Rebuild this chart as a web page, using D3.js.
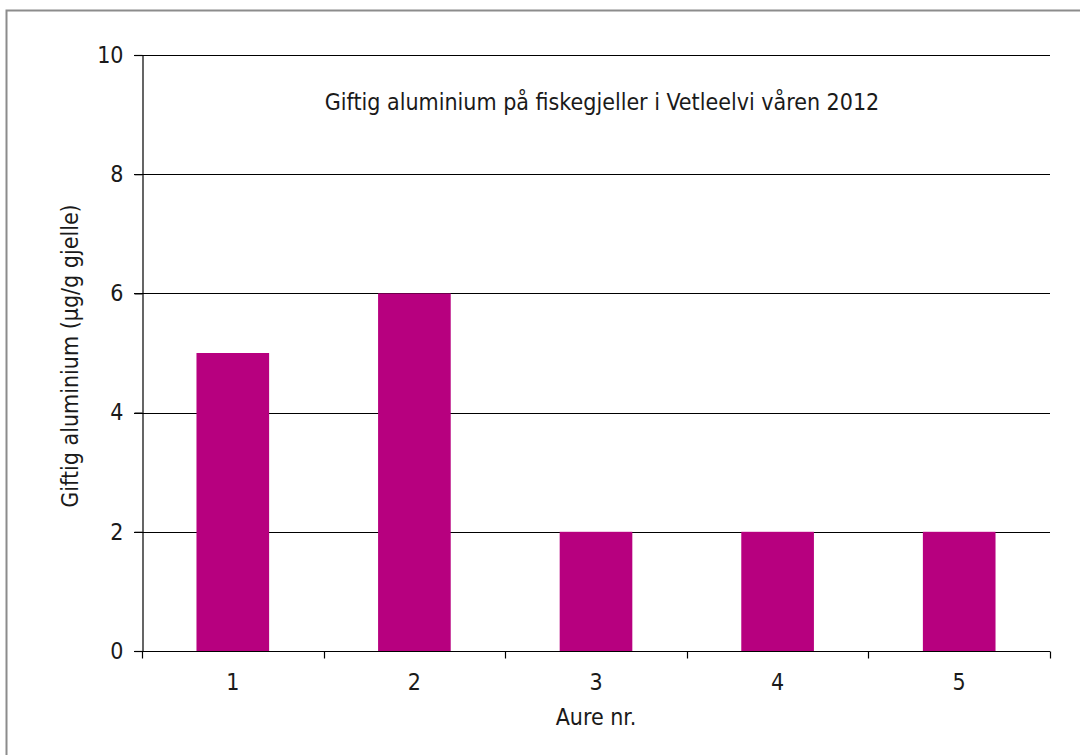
<!DOCTYPE html>
<html>
<head>
<meta charset="utf-8">
<script src="https://cdn.jsdelivr.net/npm/d3@7/dist/d3.min.js"></script>
<style>
  html, body { margin: 0; padding: 0; background: #fff; }
  svg { display: block; }
  text { font-family: "DejaVu Sans Condensed", "Liberation Sans Narrow", Roboto, sans-serif; fill: #1a1a1a; }
</style>
</head>
<body>
<svg id="chart" width="1080" height="755"></svg>
<script>
// Aure (trout) number and toxic aluminium on gills, µg per g gill
const categories = ["1", "2", "3", "4", "5"];
const values = [5, 6, 2, 2, 2];
const yTicks = [0, 2, 4, 6, 8, 10];

const title = "Giftig aluminium på fiskegjeller i Vetleelvi våren 2012";
const xTitle = "Aure nr.";
const yTitle = "Giftig aluminium (µg/g gjelle)";

const svg = d3.select("#chart");
const W = 1080, H = 755;
const m = { left: 142, right: 30, top: 55, bottom: 104 };
const fontStack = "\"DejaVu Sans Condensed\", \"Liberation Sans Narrow\", Roboto, sans-serif";

// outer frame
svg.append("rect")
  .attr("x", 6.5).attr("y", 10.5)
  .attr("width", W + 10).attr("height", H + 10)
  .attr("fill", "none").attr("stroke", "#8c8c8c").attr("stroke-width", 2);

const x = d3.scaleBand().domain(categories)
  .range([m.left, W - m.right]).paddingInner(0.6).paddingOuter(0.3);
const y = d3.scaleLinear().domain([0, 10]).range([H - m.bottom, m.top]);

// horizontal gridlines
svg.append("g").selectAll("line").data(yTicks.filter(d => d > 0)).join("line")
  .attr("x1", m.left - 8).attr("x2", W - m.right)
  .attr("y1", d => Math.round(y(d)) + 0.5).attr("y2", d => Math.round(y(d)) + 0.5)
  .attr("stroke", "#000").attr("stroke-width", 1.2);

// bars
svg.append("g").selectAll("rect").data(values).join("rect")
  .attr("x", (d, i) => x(categories[i]))
  .attr("width", x.bandwidth())
  .attr("y", d => y(d))
  .attr("height", d => y(0) - y(d))
  .attr("fill", "#b7007f");

// y axis
const yAxis = svg.append("g")
  .attr("transform", `translate(${m.left + 0.5},0)`)
  .call(d3.axisLeft(y).tickValues(yTicks).tickSize(8).tickPadding(11).tickFormat(d3.format("d")));
yAxis.select(".domain").attr("stroke", "#000").attr("stroke-width", 1.2);
yAxis.selectAll(".tick line").attr("stroke", "#000").attr("stroke-width", 1.2);
yAxis.selectAll("text").attr("font-size", 23).attr("fill", "#1a1a1a")
  .style("font-family", fontStack);

// x axis: ticks on category boundaries
const xAxisG = svg.append("g").attr("transform", `translate(0,${Math.round(y(0)) + 0.5})`);
xAxisG.append("line").attr("x1", m.left - 8).attr("x2", W - m.right)
  .attr("stroke", "#000").attr("stroke-width", 1.2);
const bounds = d3.range(categories.length + 1).map(i => m.left + i * (W - m.left - m.right) / categories.length);
xAxisG.selectAll("line.tk").data(bounds).join("line").attr("class", "tk")
  .attr("x1", d => Math.round(d) + 0.5).attr("x2", d => Math.round(d) + 0.5)
  .attr("y1", 0).attr("y2", 7).attr("stroke", "#000").attr("stroke-width", 1.2);
xAxisG.selectAll("text").data(categories).join("text")
  .attr("x", d => x(d) + x.bandwidth() / 2)
  .attr("y", 38)
  .attr("text-anchor", "middle").attr("font-size", 23)
  .text(d => d);

// titles
svg.append("text").attr("x", 602).attr("y", 110)
  .attr("text-anchor", "middle").attr("font-size", 23).text(title);
svg.append("text").attr("x", (m.left + W - m.right) / 2).attr("y", 725)
  .attr("text-anchor", "middle").attr("font-size", 23).text(xTitle);
svg.append("text")
  .attr("transform", `translate(78,356) rotate(-90)`)
  .attr("text-anchor", "middle").attr("font-size", 23).text(yTitle);
</script>
</body>
</html>
